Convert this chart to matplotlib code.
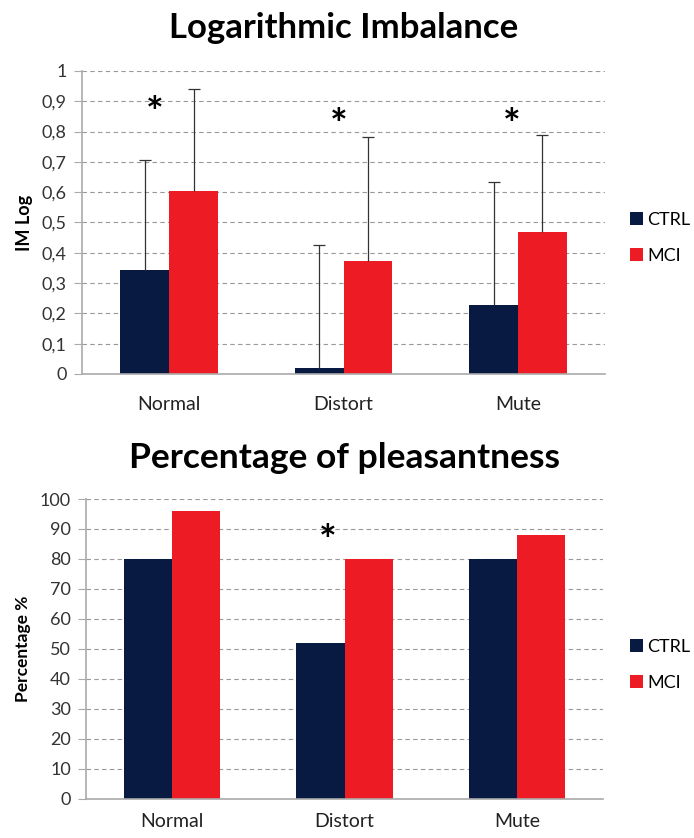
import matplotlib.pyplot as plt
import numpy as np
from matplotlib.ticker import FuncFormatter

plt.rcParams['font.family'] = ['Lato', 'DejaVu Sans']

categories = ['Normal', 'Distort', 'Mute']
groups = ['CTRL', 'MCI']

imlog_ctrl = [0.343, 0.020, 0.228]
imlog_mci = [0.605, 0.373, 0.469]
imlog_ctrl_err = [0.364, 0.406, 0.405]
imlog_mci_err = [0.337, 0.409, 0.319]
# significance marks: (x in category units, y)
imlog_stars = [(-0.08, 0.90), (0.97, 0.86), (1.965, 0.86)]

pleas_ctrl = [80, 52, 80]
pleas_mci = [96, 80, 88]
pleas_stars = [(0.9, 89.8)]

navy = '#081a42'
red = '#ed1c24'
w = 0.28

fig = plt.figure(figsize=(6.94, 8.38), dpi=100)
ax1 = fig.add_axes([0.118, 0.5537, 0.754, 0.3616])
ax2 = fig.add_axes([0.124, 0.047, 0.745, 0.3575])


def style(ax, ymax, step, fmt, xpad):
    ax.set_xlim(-0.5, 2.5)
    ax.set_ylim(0, ymax)
    ax.set_yticks(np.arange(0, ymax + step / 2, step))
    ax.yaxis.set_major_formatter(FuncFormatter(fmt))
    ax.set_xticks(range(3))
    ax.set_xticklabels(categories)
    ax.tick_params(axis='x', length=0, pad=xpad, labelsize=14, colors='#222222')
    ax.tick_params(axis='y', length=6, width=0.8, color='#aaaaaa',
                   labelsize=13, colors='#333333', pad=5)
    ax.grid(axis='y', linestyle=(0, (4, 3)), color='#999999', linewidth=0.8)
    ax.set_axisbelow(True)
    for s in ['top', 'right']:
        ax.spines[s].set_visible(False)
    for s in ['left', 'bottom']:
        ax.spines[s].set_color('#aaaaaa')
        ax.spines[s].set_linewidth(1.2)


def up_err(ax, xs, ys, errs):
    ax.errorbar(xs, ys, yerr=[np.zeros(len(ys)), errs], fmt='none',
                ecolor='#333333', elinewidth=0.9, capsize=0)
    ax.plot(xs, np.array(ys) + np.array(errs), ls='none', marker='_',
            ms=9, mew=0.9, color='#333333')


def stars(ax, pts):
    for sx, sy in pts:
        # '*' glyph sits high in its box, shift down so its centre lands on (sx, sy)
        ax.annotate('*', (sx, sy), xytext=(0, -10), textcoords='offset points',
                    ha='center', va='center', fontsize=30, fontweight='bold')


def legend(ax, ycenter):
    ax.legend(loc='center left', bbox_to_anchor=(0.908, ycenter),
              bbox_transform=fig.transFigure, frameon=False, fontsize=13,
              handlelength=0.7, handleheight=0.7, handletextpad=0.25,
              labelspacing=1.1, borderpad=0, borderaxespad=0)


x = np.arange(3)
ax1.bar(x - w / 2, imlog_ctrl, w, color=navy, label=groups[0])
ax1.bar(x + w / 2, imlog_mci, w, color=red, label=groups[1])
up_err(ax1, x - w / 2, imlog_ctrl, imlog_ctrl_err)
up_err(ax1, x + w / 2, imlog_mci, imlog_mci_err)
style(ax1, 1.0, 0.1, lambda v, p: '0' if v == 0 else ('1' if abs(v - 1) < 1e-9 else f'{v:.1f}'.replace('.', ',')), 16)
stars(ax1, imlog_stars)
ax1.set_ylabel('IM Log', fontsize=13, fontweight='bold', labelpad=6)
ax1.set_title('Logarithmic Imbalance', fontsize=25, fontweight='bold', pad=24)
legend(ax1, 0.716)

ax2.bar(x - w / 2, pleas_ctrl, w, color=navy, label=groups[0])
ax2.bar(x + w / 2, pleas_mci, w, color=red, label=groups[1])
style(ax2, 100, 10, lambda v, p: f'{v:.0f}', 10)
stars(ax2, pleas_stars)
ax2.set_ylabel('Percentage %', fontsize=12.5, fontweight='bold', labelpad=6)
ax2.set_title('Percentage of pleasantness', fontsize=25.5, fontweight='bold', pad=22)
legend(ax2, 0.2064)

fig.savefig('out.png', dpi=100)
